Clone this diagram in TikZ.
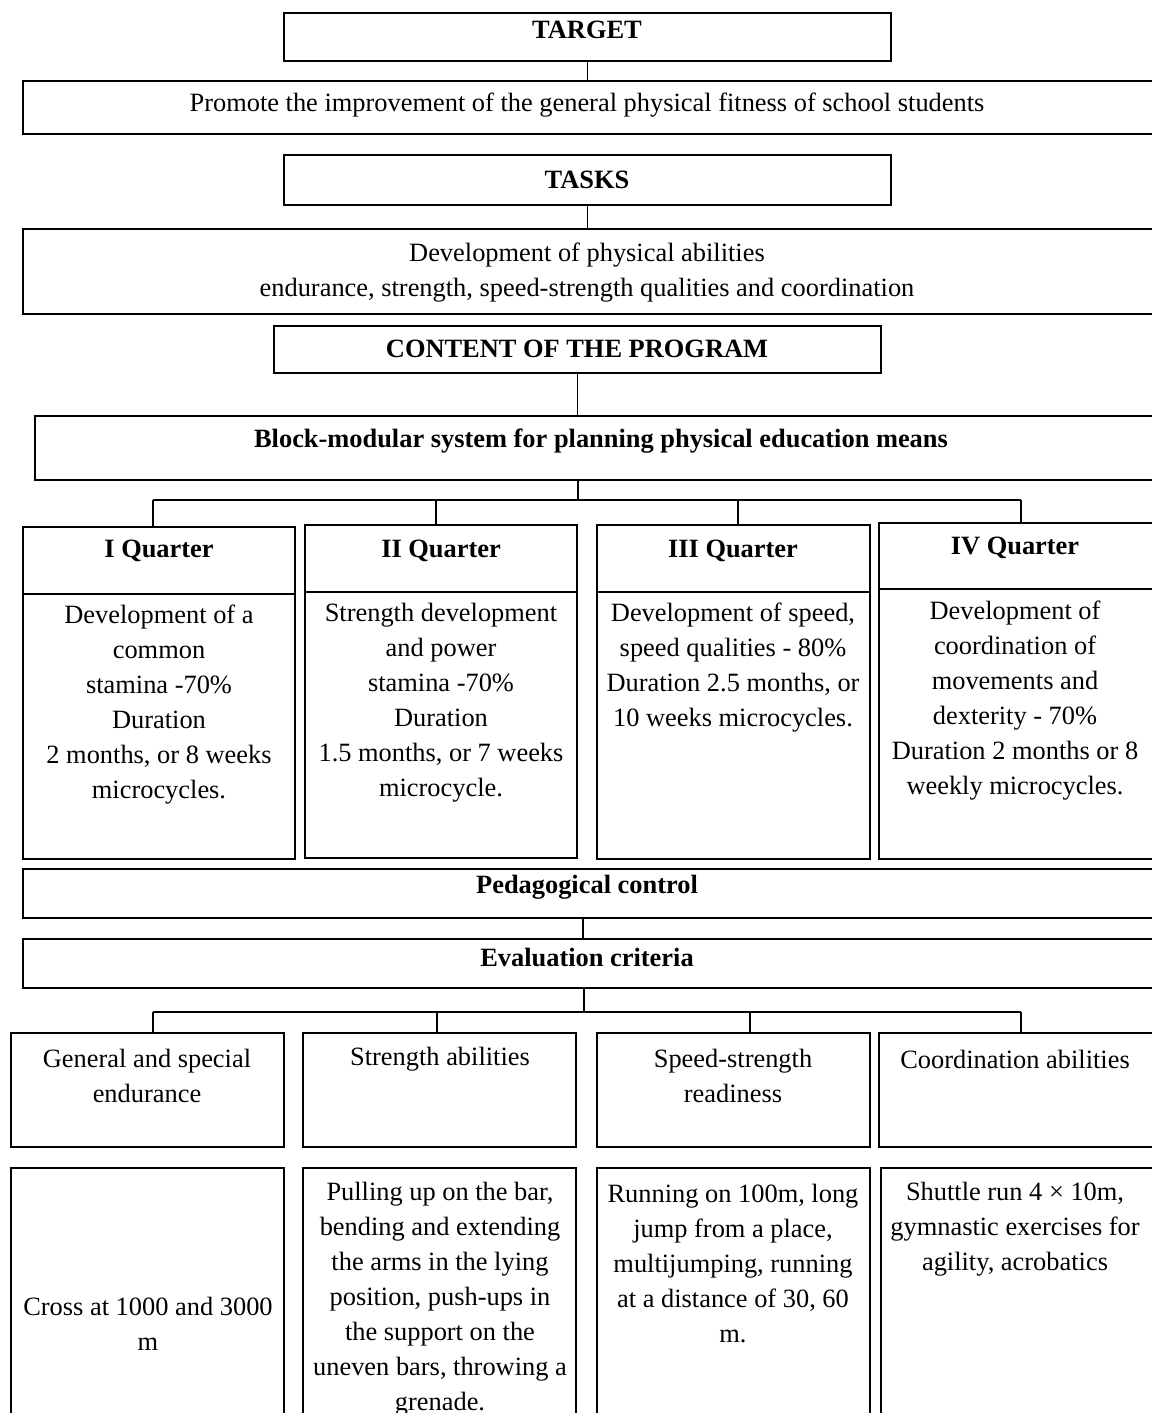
\documentclass[tikz,border=0pt]{standalone}
\usepackage{fontspec}
\setmainfont{Liberation Serif}
\usetikzlibrary{fit}
\begin{document}
\begin{tikzpicture}[x=0.5pt, y=-0.5pt, line width=0.65pt,
  box/.style={draw,inner sep=0pt},
  txt/.style={align=center,inner sep=0pt,font=\fontsize{13.2}{17.5}\selectfont}]
\useasboundingbox (0,0) rectangle (1151,1413);
\node[box,fit={(284,13) (891,61)}] (target) {};
\node[box,fit={(23,81) (1156,134)}] (promote) {};
\node[box,fit={(284,155) (891,205)}] (tasks) {};
\node[box,fit={(23,229) (1156,314)}] (dev) {};
\node[box,fit={(274,326) (881,373)}] (content) {};
\node[box,fit={(35,416) (1156,480)}] (block) {};
\node[txt] (target-t) at (587,30) {\textbf{TARGET}};
\node[txt] (promote-t) at (587,105) {Promote the improvement of the general physical fitness of school students};
\node[txt] (tasks-t) at (587,180) {\textbf{TASKS}};
\node[txt] (dev-t) at (587,273) {Development of physical abilities\\endurance, strength, speed-strength qualities and coordination};
\node[txt] (content-t) at (577,349) {\textbf{CONTENT OF THE PROGRAM}};
\node[txt] (block-t) at (601,441) {\textbf{Block-modular system for planning physical education means}};
\node[box,fit={(23,527) (295,594)}] (q1h) {};
\node[box,fit={(23,594) (295,859)}] (q1b) {};
\node[box,fit={(305,525) (577,592)}] (q2h) {};
\node[box,fit={(305,592) (577,858)}] (q2b) {};
\node[box,fit={(597,525) (870,592)}] (q3h) {};
\node[box,fit={(597,592) (870,859)}] (q3b) {};
\node[box,fit={(879,523) (1156,589)}] (q4h) {};
\node[box,fit={(879,589) (1156,859)}] (q4b) {};
\node[txt] (q1h-t) at (159,551) {\textbf{I Quarter}};
\node[txt] (q1b-t) at (159,705) {Development of a\\common\\stamina -70\%\\Duration\\2 months, or 8 weeks\\microcycles.};
\node[txt] (q2h-t) at (441,551) {\textbf{II Quarter}};
\node[txt] (q2b-t) at (441,703) {Strength development\\and power\\stamina -70\%\\Duration\\1.5 months, or 7 weeks\\microcycle.};
\node[txt] (q3h-t) at (733,551) {\textbf{III Quarter}};
\node[txt] (q3b-t) at (733,668) {Development of speed,\\speed qualities - 80\%\\Duration 2.5 months, or\\10 weeks microcycles.};
\node[txt] (q4h-t) at (1015,548) {\textbf{IV Quarter}};
\node[txt] (q4b-t) at (1015,701) {Development of\\coordination of\\movements and\\dexterity - 70\%\\Duration 2 months or 8\\weekly microcycles.};
\node[box,fit={(23,869) (1156,918)}] (ped) {};
\node[box,fit={(23,939) (1156,988)}] (eval) {};
\node[txt] (ped-t) at (587,887) {\textbf{Pedagogical control}};
\node[txt] (eval-t) at (587,957) {\textbf{Evaluation criteria}};
\node[box,fit={(11,1033) (284,1147)}] (c1) {};
\node[box,fit={(303,1033) (576,1147)}] (c2) {};
\node[box,fit={(597,1033) (870,1147)}] (c3) {};
\node[box,fit={(879,1033) (1156,1147)}] (c4) {};
\node[txt] (c1-t) at (147,1076) {General and special\\endurance};
\node[txt] (c2-t) at (440,1059) {Strength abilities};
\node[txt] (c3-t) at (733,1076) {Speed-strength\\readiness};
\node[txt] (c4-t) at (1015,1059) {Coordination abilities};
\node[box,fit={(11,1168) (284,1425)}] (t1) {};
\node[box,fit={(303,1168) (576,1425)}] (t2) {};
\node[box,fit={(597,1168) (870,1425)}] (t3) {};
\node[box,fit={(881,1168) (1156,1425)}] (t4) {};
\node[txt] (t1-t) at (148,1324) {Cross at 1000 and 3000\\m};
\node[txt] (t2-t) at (440,1299) {Pulling up on the bar,\\bending and extending\\the arms in the lying\\position, push-ups in\\the support on the\\uneven bars, throwing a\\grenade.};
\node[txt] (t3-t) at (733,1264) {Running on 100m, long\\jump from a place,\\multijumping, running\\at a distance of 30, 60\\m.};
\node[txt] (t4-t) at (1015,1229) {Shuttle run 4 × 10m,\\gymnastic exercises for\\agility, acrobatics};
\draw (target.south) -- (target.south |- promote.north);
\draw (tasks.south) -- (tasks.south |- dev.north);
\draw (content.south) -- (content.south |- block.north);
\coordinate (qbus) at (578,500);
\draw (qbus |- block.south) -- (qbus);
\draw (153,500) -- (1021,500);
\foreach \x/\q in {153/q1h,436/q2h,738/q3h,1021/q4h}
  \draw (\x,500) -- (\x,0 |- \q.north);
\draw (583,0 |- ped.south) -- (583,0 |- eval.north);
\coordinate (ebus) at (584,1012);
\draw (ebus |- eval.south) -- (ebus);
\draw (153,1012) -- (1021,1012);
\foreach \x/\c in {153/c1,437/c2,750/c3,1021/c4}
  \draw (\x,1012) -- (\x,0 |- \c.north);
\end{tikzpicture}
\end{document}
